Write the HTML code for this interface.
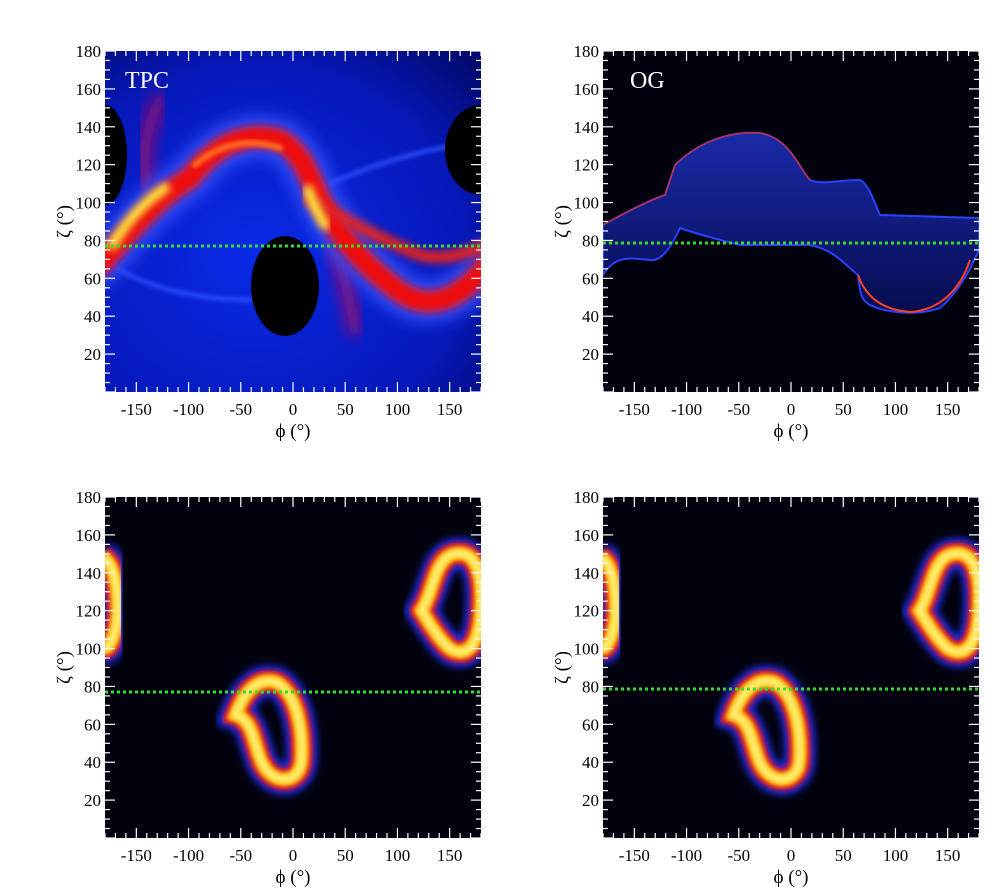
<!DOCTYPE html>
<html><head><meta charset="utf-8"><style>
body{margin:0;background:#fff;}
svg{display:block;}
text{font-family:"Liberation Serif",serif;}
</style></head><body>
<svg id="s" width="996" height="892" viewBox="0 0 996 892" xmlns="http://www.w3.org/2000/svg" font-family="Liberation Serif, serif">
<defs>
<filter id="b2" x="-20%" y="-20%" width="140%" height="140%"><feGaussianBlur stdDeviation="2"/></filter>
<filter id="b4" x="-30%" y="-30%" width="160%" height="160%"><feGaussianBlur stdDeviation="4"/></filter>
<filter id="b8" x="-30%" y="-30%" width="160%" height="160%"><feGaussianBlur stdDeviation="8"/></filter>
<radialGradient id="bg1" cx="0.4" cy="0.6" r="0.8"><stop offset="0" stop-color="#0a2ae8"/><stop offset="0.7" stop-color="#0618b8"/><stop offset="1" stop-color="#020a70"/></radialGradient>
<linearGradient id="og" x1="0" y1="0" x2="0" y2="1"><stop offset="0" stop-color="#1a2aa8"/><stop offset="1" stop-color="#060c50"/></linearGradient>
<clipPath id="c1"><rect x="105" y="51" width="376" height="341"/></clipPath>
<clipPath id="c2"><rect x="603" y="51" width="376" height="341"/></clipPath>
<clipPath id="c3"><rect x="105" y="497" width="376" height="341"/></clipPath>
<clipPath id="c4"><rect x="603" y="497" width="376" height="341"/></clipPath>
</defs>

<!-- TPC -->
<g clip-path="url(#c1)">
<rect x="105" y="51" width="376" height="341" fill="url(#bg1)"/>
<g fill="none" stroke-linecap="round">
<path d="M110,264 C150,290 200,300 260,300" stroke="#2a50ff" stroke-width="4" filter="url(#b2)"/>
<path d="M320,188 C370,165 420,150 470,143" stroke="#2a50ff" stroke-width="4" filter="url(#b2)"/>
<path d="M150,200 C140,160 145,130 160,100" stroke="#b01060" stroke-width="12" filter="url(#b8)"/>
<path d="M330,230 C340,260 350,300 355,330" stroke="#b01060" stroke-width="12" filter="url(#b8)"/>
<path d="M100,265 C130,230 160,195 190,178 C215,145 245,130 280,140 C305,155 310,180 320,200 C340,240 370,270 400,292 C430,312 460,300 490,262" stroke="#3050ff" stroke-width="40" filter="url(#b8)"/>
<path d="M100,265 C130,230 160,195 190,178 C215,145 245,130 280,140 C305,155 310,180 320,200 C340,240 370,270 400,292 C430,312 460,300 490,262" stroke="#f01010" stroke-width="22" filter="url(#b4)"/>
<path d="M195,165 C220,143 250,138 280,148" fill="none" stroke="#ff7020" stroke-width="6" filter="url(#b2)"/>
<path d="M310,200 C340,215 380,240 420,255 C450,262 470,250 490,245" stroke="#e02020" stroke-width="12" filter="url(#b4)"/>
<path d="M112,245 C125,225 140,205 165,188" stroke="#ffee40" stroke-width="10" filter="url(#b4)"/>
<path d="M308,190 C314,205 318,215 325,225" stroke="#ffee40" stroke-width="10" filter="url(#b4)"/>
</g>
<ellipse cx="105" cy="155" rx="22" ry="50" fill="#000"/>
<ellipse cx="481" cy="150" rx="36" ry="45" fill="#000"/>
<ellipse cx="285" cy="286" rx="34" ry="50" fill="#000"/>
<line x1="105" y1="246" x2="481" y2="246" stroke="#30e030" stroke-width="3" stroke-dasharray="3,3"/>
<text x="125" y="88" fill="#fff" font-size="24">TPC</text>
</g>

<!-- OG -->
<g clip-path="url(#c2)">
<rect x="603" y="51" width="376" height="341" fill="#02020e"/>
<path d="M603,225 C630,210 650,200 665,195 L675,165 C690,150 720,130 760,133 C790,138 800,170 810,180 C820,185 840,180 860,180 C870,185 875,205 880,215 L979,218 L979,250 C970,270 960,290 940,308 C910,318 880,310 870,305 C860,300 860,290 858,275 C845,265 835,250 810,245 L740,245 C720,240 700,235 680,228 C670,250 660,262 650,260 C630,258 615,255 603,275 Z" fill="url(#og)" stroke="#2a40ff" stroke-width="2"/>
<path d="M603,225 C630,210 650,200 665,195 L675,165 C690,150 720,130 760,133 C790,138 800,170 810,180" fill="none" stroke="#c03040" stroke-width="1.5"/>
<path d="M858,275 C865,295 880,310 910,312 C940,310 960,290 970,260" fill="none" stroke="#ff4020" stroke-width="2"/>
<line x1="603" y1="243" x2="979" y2="243" stroke="#30e030" stroke-width="3" stroke-dasharray="3,3"/>
<text x="630" y="88" fill="#fff" font-size="24">OG</text>
</g>

<g clip-path="url(#c3)">
<rect x="105" y="497" width="376" height="341" fill="#02020e"/>
</g>
<g clip-path="url(#c4)">
<rect x="603" y="497" width="376" height="341" fill="#02020e"/>
</g>
</svg>
<script>
var s=document.getElementById('s'),NS='http://www.w3.org/2000/svg';
function el(t,a,p){var e=document.createElementNS(NS,t);for(var k in a)e.setAttribute(k,a[k]);(p||s).appendChild(e);return e;}
var FF='Liberation Serif, serif';
var panels=[[105,51,246,'c3'],[603,51,243,'c4'],[105,497,692,'c3'],[603,497,689,'c4']];
panels.forEach(function(p,i){
 var x0=p[0],y0=p[1],W=376,H=341;
 function X(f){return x0+(f+180)*W/360;} function Y(z){return y0+H-z*H/180;}
 if(i>=2){
  var g=el('g',{'clip-path':'url(#'+p[3]+')'});
  var ringD=[
   'M'+X(-55)+','+Y(65)+' C'+X(-45)+','+Y(80)+' '+X(-30)+','+Y(85)+' '+X(-15)+','+Y(82)+' C'+X(5)+','+Y(75)+' '+X(10)+','+Y(55)+' '+X(8)+','+Y(40)+' C'+X(5)+','+Y(28)+' '+X(-20)+','+Y(28)+' '+X(-30)+','+Y(40)+' C'+X(-38)+','+Y(50)+' '+X(-38)+','+Y(62)+' '+X(-55)+','+Y(65)+' Z',
   'M'+X(123)+','+Y(120)+' C'+X(135)+','+Y(130)+' '+X(135)+','+Y(148)+' '+X(155)+','+Y(150)+' C'+X(175)+','+Y(152)+' '+X(182)+','+Y(140)+' '+X(180)+','+Y(120)+' C'+X(178)+','+Y(100)+' '+X(165)+','+Y(95)+' '+X(150)+','+Y(100)+' C'+X(140)+','+Y(105)+' '+X(132)+','+Y(112)+' '+X(123)+','+Y(120)+' Z',
   'M'+X(-182)+','+Y(148)+' C'+X(-168)+','+Y(145)+' '+X(-165)+','+Y(120)+' '+X(-170)+','+Y(110)+' C'+X(-175)+','+Y(100)+' '+X(-180)+','+Y(100)+' '+X(-182)+','+Y(100)];
  ringD.forEach(function(d){
   el('path',{d:d,fill:'none',stroke:'#2030ff','stroke-width':30,filter:'url(#b4)'},g);
   el('path',{d:d,fill:'none',stroke:'#e01010','stroke-width':22,filter:'url(#b2)'},g);
   el('path',{d:d,fill:'none',stroke:'#ffd020','stroke-width':14,filter:'url(#b2)'},g);
   el('path',{d:d,fill:'none',stroke:'#fff080','stroke-width':5,filter:'url(#b2)'},g);
  });
  el('line',{x1:x0,y1:p[2],x2:x0+W,y2:p[2],stroke:'#30e030','stroke-width':3,'stroke-dasharray':'3,3'},g);
 }
 var tk=el('g',{stroke:'#fff','stroke-width':1.2});
 for(var f=-180;f<=180;f+=10){var L=(f%50==0)?10:5;var x=X(f);
  el('line',{x1:x,y1:y0+H,x2:x,y2:y0+H-L},tk);el('line',{x1:x,y1:y0,x2:x,y2:y0+L},tk);}
 for(var z=0;z<=180;z+=5){var L=(z%20==0)?10:5;var y=Y(z);
  el('line',{x1:x0,y1:y,x2:x0+L,y2:y},tk);el('line',{x1:x0+W,y1:y,x2:x0+W-L,y2:y},tk);}
 for(var f=-150;f<=150;f+=50){var t=el('text',{x:X(f),y:y0+H+23,'text-anchor':'middle','font-size':17,'font-family':FF});t.textContent=f;}
 for(var z=20;z<=180;z+=20){var t=el('text',{x:x0-4,y:Y(z)+6,'text-anchor':'end','font-size':17,'font-family':FF});t.textContent=z;}
 var t=el('text',{x:x0+W/2,y:y0+H+45,'text-anchor':'middle','font-size':19,'font-family':FF});t.textContent='ϕ (°)';
 var t2=el('text',{x:0,y:0,'text-anchor':'middle','font-size':19,'font-family':FF,transform:'translate('+(x0-35)+','+(y0+H/2)+') rotate(-90)'});t2.textContent='ζ (°)';
});
</script>
</body></html>
